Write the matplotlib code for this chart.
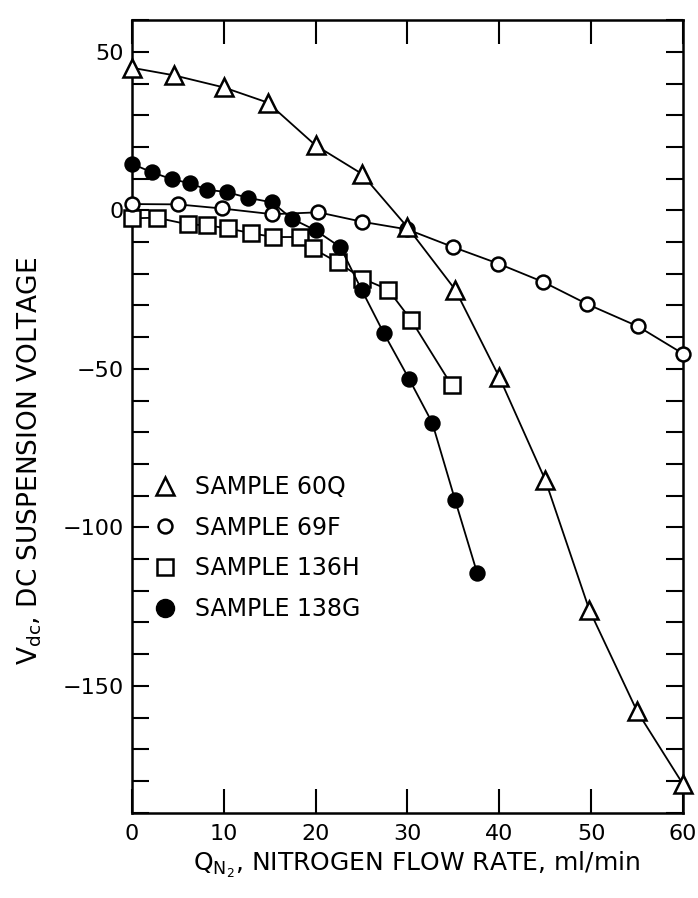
import matplotlib
matplotlib.use("Agg")
import matplotlib.pyplot as plt  # noqa: E402
from matplotlib.lines import Line2D  # noqa: E402
from matplotlib.ticker import MultipleLocator, FuncFormatter  # noqa: E402

plt.rcParams["font.family"] = ["DejaVu Sans"]

# DC suspension voltage vs. nitrogen flow rate, four samples
flow_60q = [0, 4.6, 10, 14.8, 20, 25, 30, 35.2, 40, 45, 49.8, 55, 60]
vdc_60q = [45, 42.6, 38.8, 34, 20.5, 11.6, -5.3, -25, -52.6, -85, -126, -158, -181]

flow_69f = [0, 5, 9.8, 15.3, 20.3, 25.1, 30, 35, 39.9, 44.8, 49.6, 55.1, 60]
vdc_69f = [2.0, 1.9, 0.6, -1.2, -0.6, -3.6, -6.0, -11.6, -16.8, -22.6, -29.6, -36.6, -45.2]

flow_136h = [0, 2.7, 6.1, 8.2, 10.5, 13, 15.4, 18.3, 19.7, 22.4, 25.1, 27.9, 30.4, 34.8]
vdc_136h = [-2.5, -2.3, -4.4, -4.7, -5.7, -7.2, -8.4, -8.4, -12, -16.4, -21.5, -25, -34.6, -55.1]

flow_138g = [0, 2.2, 4.4, 6.3, 8.2, 10.3, 12.6, 15.3, 17.4, 20, 22.7, 25, 27.4, 30.2, 32.7, 35.2, 37.6]
vdc_138g = [14.7, 12, 9.8, 8.6, 6.5, 5.8, 4, 2.5, -2.6, -6.3, -11.6, -25, -38.6, -53.3, -67, -91.5, -114.5]

legend_labels = ["SAMPLE 60Q", "SAMPLE 69F", "SAMPLE 136H", "SAMPLE 138G"]

fig = plt.figure(figsize=(6.98, 8.98), dpi=100)
ax = fig.add_axes([0.189, 0.095, 0.7895, 0.8825])

line_kw = dict(color="black", linewidth=1.3, markeredgewidth=1.8,
               markeredgecolor="black", clip_on=False)
ax.plot(flow_136h, vdc_136h, marker="s", markersize=11,
        markerfacecolor="white", zorder=3, **line_kw)
ax.plot(flow_138g, vdc_138g, marker="o", markersize=10,
        markerfacecolor="black", zorder=4, **line_kw)
ax.plot(flow_69f, vdc_69f, marker="o", markersize=10,
        markerfacecolor="white", zorder=5, **line_kw)
ax.plot(flow_60q, vdc_60q, marker="^", markersize=13,
        markerfacecolor="white", zorder=6, **line_kw)

ax.set_xlim(0, 60)
ax.set_ylim(-190, 60)

ax.xaxis.set_major_locator(MultipleLocator(10))
ax.yaxis.set_major_locator(MultipleLocator(10))
ax.yaxis.set_major_formatter(
    FuncFormatter(lambda v, _: "" if round(v) % 50 else f"{int(round(v))}".replace("-", "\u2212")))

ax.tick_params(axis="x", which="major", direction="in", length=17, width=1.5,
               top=True, labelsize=16, pad=8)
ax.tick_params(axis="y", which="major", direction="in", length=12, width=1.5,
               right=True, labelsize=16, pad=6)
for side in ax.spines.values():
    side.set_linewidth(1.8)

ax.set_xlabel(r"Q$_{\mathregular{N_2}}$, NITROGEN FLOW RATE, ml/min", fontsize=18)
ax.xaxis.set_label_coords(0.517, -0.047)
ax.set_ylabel(r"V$_{\mathregular{dc}}$, DC SUSPENSION VOLTAGE", fontsize=19)
ax.yaxis.set_label_coords(-0.16, 0.444)

handles = [
    Line2D([], [], linestyle="none", marker="^", markersize=13,
           markerfacecolor="white", markeredgecolor="black", markeredgewidth=1.8),
    Line2D([], [], linestyle="none", marker="o", markersize=10,
           markerfacecolor="white", markeredgecolor="black", markeredgewidth=1.8),
    Line2D([], [], linestyle="none", marker="s", markersize=11,
           markerfacecolor="white", markeredgecolor="black", markeredgewidth=1.8),
    Line2D([], [], linestyle="none", marker="o", markersize=13,
           markerfacecolor="black", markeredgecolor="black"),
]
ax.legend(handles, legend_labels, loc="upper left", bbox_to_anchor=(-0.005, 0.453),
          frameon=False, fontsize=17, labelspacing=0.71, handletextpad=0.7,
          handlelength=1.2)

fig.savefig("out.png", dpi=100)
